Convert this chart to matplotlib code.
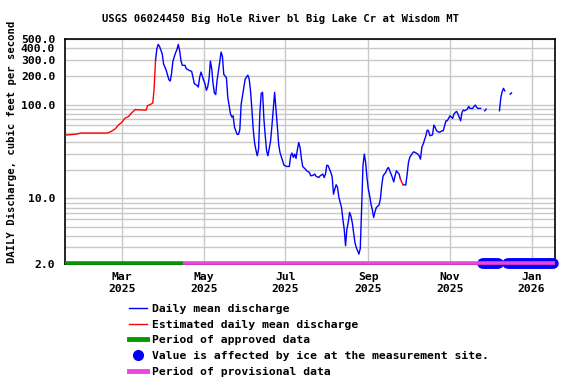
#!/usr/bin/env python3
"""USGS daily discharge, Big Hole River bl Big Lake Cr at Wisdom MT."""

import matplotlib

matplotlib.use("Agg")
import matplotlib.pyplot as plt
import numpy as np
from matplotlib.lines import Line2D

BASE = np.datetime64("2025-01-01")

# day offsets from 2025-01-01 and discharge (cfs)
est1_days = [17, 25, 28, 48, 51, 54, 56, 59, 61, 64, 66, 69, 70, 77, 78, 80, 82, 83, 84]
est1_vals = [47.3, 48.5, 49.7, 49.7, 51.8, 55.2, 60.0, 65.1, 71.3, 74.8, 81.2, 88.9,
             88.0, 87.4, 97.1, 100, 104, 150, 295]

est2_days = [267, 268, 269]
est2_vals = [16.1, 14.8, 14.0]

daily_a_days = [84, 85, 86, 87, 89, 90, 92, 94, 95, 96, 97, 99, 100, 101, 102, 103, 104,
                106, 107, 109, 111, 112, 113, 115, 116, 117, 118, 119, 120, 121, 122, 123,
                124, 125, 126, 127, 128, 129, 130, 132, 133, 134, 135, 137, 138, 140, 141,
                142, 143, 145, 146, 147, 148, 150, 151, 153, 154, 155, 156, 157, 158, 159,
                160, 161, 162, 163, 164, 165, 166, 167, 168, 170, 171, 172, 173, 174, 175,
                176, 177, 179, 180, 182, 184, 185, 186, 187, 188, 189, 190, 191, 192, 193,
                194, 196, 197, 199, 200, 202, 203, 204, 206, 207, 209, 210, 211, 212, 213,
                215, 216, 217, 218, 219, 220, 221, 223, 224, 225, 226, 227, 228, 229, 230,
                231, 232, 233, 234, 236, 237, 238, 239, 240, 241, 242, 243, 244, 245, 246,
                247, 248, 249, 251, 252, 253, 254, 255, 256, 257, 258, 259, 261, 262, 263,
                264, 266, 267]
daily_a_vals = [295, 393, 438, 417, 348, 272, 232, 184, 178, 215, 290, 357, 384, 438, 378,
                296, 262, 262, 241, 232, 226, 196, 167, 160, 154, 196, 222, 200, 181, 167,
                142, 154, 188, 291, 241, 167, 133, 128, 181, 284, 363, 326, 210, 193, 120,
                79.8, 73.6, 76, 57.5, 48.1, 48.1, 54, 101, 153, 187, 206, 187, 140, 89.5,
                54.8, 39.5, 33, 28.5, 33.5, 82.6, 132, 135, 70, 46.5, 32.2, 28.5, 41.1,
                59.4, 89.5, 135, 89.5, 59.4, 37.9, 30.9, 25.2, 22.6, 21.9, 21.9, 28.5, 30.4,
                27.4, 29.7, 26.7, 33, 39.5, 35, 26.7, 21.9, 20.5, 19.7, 18.9, 17.4, 17.7,
                18.2, 17.2, 16.7, 17.4, 18.2, 16.7, 18.2, 22.6, 22.3, 18.9, 17.0, 11.1,
                12.6, 14.0, 13.1, 10.3, 8.0, 6.0, 4.7, 3.13, 4.7, 5.55, 7.1, 6.5, 5.55,
                4.35, 3.4, 3.0, 2.55, 2.93, 7.7, 22.3, 29.7, 24.2, 16.7, 12.6, 10.7, 8.7,
                7.56, 6.27, 7.2, 8.0, 8.5, 9.8, 13.6, 17.2, 18.2, 18.9, 20.5, 21.4, 19.7,
                16.7, 15.0, 17.4, 19.7, 18.2, 16.1]

daily_b_days = [269, 271, 272, 273, 274, 276, 277, 278, 280, 281, 282, 283, 284, 286, 287,
                288, 289, 291, 292, 293, 294, 296, 297, 298, 299, 301, 302, 303, 304, 306,
                307, 308, 309, 310, 312, 313, 314, 315, 317, 318, 319, 321, 322, 323, 324,
                325, 327]
daily_b_vals = [14.0, 13.9, 18, 24.2, 27.4, 30.4, 31.4, 30.9, 29.7, 28.5, 26.2, 35, 37.9,
                46.5, 53.5, 52.6, 46.5, 47.6, 60.5, 57.1, 52.6, 50.6, 51.3, 52.6, 52.6,
                67.2, 67.2, 71.3, 76, 71.3, 79.2, 82.6, 84.6, 79.2, 67.2, 82.6, 87.4, 85.9,
                89.5, 95.7, 91.1, 91.1, 95.7, 98.8, 93.3, 91.1, 91.1]

daily_c_days = [330, 331]
daily_c_vals = [85.9, 89.5]
daily_d_days = [341, 342, 343, 344, 345]
daily_d_vals = [86, 118, 137, 149, 140]
daily_e_days = [349, 350]
daily_e_vals = [129, 133]

ice_days = list(range(328, 341)) + list(range(347, 382))
approved_end = 104.6
x_start, x_end = 16.4, 382.5

tick_dates = ["2025-03-01", "2025-05-01", "2025-07-01", "2025-09-01", "2025-11-01", "2026-01-01"]
tick_labels = ["Mar\n2025", "May\n2025", "Jul\n2025", "Sep\n2025", "Nov\n2025", "Jan\n2026"]
y_major = [2, 10, 100, 200, 300, 400, 500]
y_labels = ["2.0", "10.0", "100.0", "200.0", "300.0", "400.0", "500.0"]
y_minor = [3, 4, 5, 6, 7, 8, 9, 20, 30, 40, 50, 60, 70, 80, 90]

BLUE = "#0000FF"
RED = "#FF0000"
GREEN = "#009A00"
PINK = "#EE44DD"
GRID = "#C8C8C8"
FONT = "DejaVu Sans Mono"


def to_dates(days):
    return BASE + (np.asarray(days, dtype=float) * 24).astype("timedelta64[h]")


plt.rcParams["font.family"] = FONT
plt.rcParams["font.weight"] = "bold"

fig = plt.figure(figsize=(5.76, 3.84), dpi=100)
ax = fig.add_axes([65 / 576, 1 - 264 / 384, 490 / 576, 225 / 384])

ax.set_yscale("log")
ax.set_ylim(2, 500)
ax.set_xlim(to_dates([x_start])[0], to_dates([x_end])[0])

ax.set_yticks(y_major)
ax.set_yticklabels(y_labels)
ax.set_yticks(y_minor, minor=True)
ax.set_yticklabels([], minor=True)
ax.set_xticks(np.array(tick_dates, dtype="datetime64[D]"))
ax.set_xticklabels(tick_labels)
ax.tick_params(axis="both", which="both", length=0, labelsize=8.2)
ax.tick_params(axis="y", pad=7)
ax.tick_params(axis="x", pad=6)
for lab in ax.get_xticklabels() + ax.get_yticklabels():
    lab.set_fontweight("bold")
ax.grid(True, which="both", color=GRID, linewidth=1.0)
ax.set_axisbelow(True)
for sp in ax.spines.values():
    sp.set_linewidth(1.2)

for d, v in [(daily_a_days, daily_a_vals), (daily_b_days, daily_b_vals),
             (daily_c_days, daily_c_vals), (daily_d_days, daily_d_vals),
             (daily_e_days, daily_e_vals)]:
    ax.plot(to_dates(d), v, color=BLUE, linewidth=1.0, zorder=3)
for d, v in [(est1_days, est1_vals), (est2_days, est2_vals)]:
    ax.plot(to_dates(d), v, color=RED, linewidth=1.0, zorder=3)

bar_y = 2.07
ax.plot(to_dates(ice_days), [bar_y] * len(ice_days), linestyle="none", marker="o",
        markersize=6.5, color=BLUE, zorder=4, clip_on=False)
ax.plot(to_dates([x_start, approved_end]), [bar_y, bar_y], color=GREEN, linewidth=2.6,
        solid_capstyle="butt", zorder=5, clip_on=False)
ax.plot(to_dates([approved_end, x_end]), [bar_y, bar_y], color=PINK, linewidth=2.6,
        solid_capstyle="butt", zorder=5, clip_on=False)

fig.text(280 / 576, 1 - 19 / 384, "USGS 06024450 Big Hole River bl Big Lake Cr at Wisdom MT",
         ha="center", va="center", fontsize=7.6, fontweight="bold")
fig.text(12 / 576, 1 - 142 / 384, "DAILY Discharge, cubic feet per second",
         rotation=90, ha="center", va="center", fontsize=7.6, fontweight="bold")

handles = [
    Line2D([], [], color=BLUE, linewidth=1.0),
    Line2D([], [], color=RED, linewidth=1.0),
    Line2D([], [], color=GREEN, linewidth=3.5),
    Line2D([], [], color=BLUE, linestyle="none", marker="o", markersize=7),
    Line2D([], [], color=PINK, linewidth=3.5),
]
labels = [
    "Daily mean discharge",
    "Estimated daily mean discharge",
    "Period of approved data",
    "Value is affected by ice at the measurement site.",
    "Period of provisional data",
]
fig.legend(handles, labels, loc="upper left", bbox_to_anchor=(129 / 576, 1 - 304 / 384),
           frameon=False, prop={"family": FONT, "weight": "bold", "size": 8.2},
           handlelength=1.6, handletextpad=0.45, labelspacing=0.5, borderpad=0,
           borderaxespad=0)

fig.savefig("out.png", dpi=100)
